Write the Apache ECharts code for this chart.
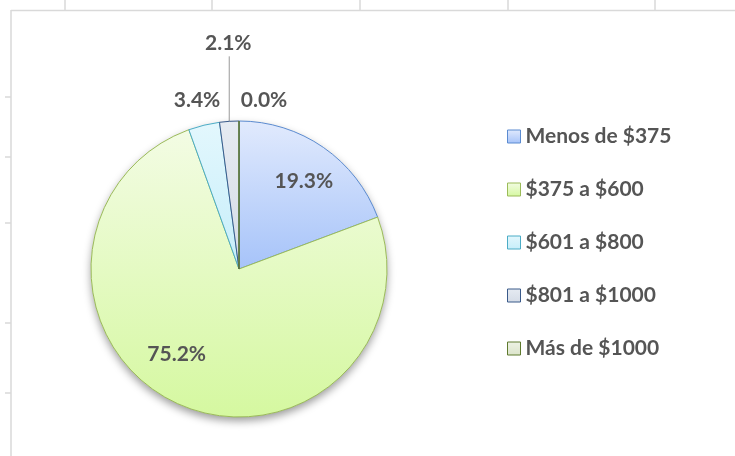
<!DOCTYPE html>
<html><head><meta charset="utf-8">
<script src="https://cdn.jsdelivr.net/npm/echarts@6/dist/echarts.min.js"></script>
<style>html,body{margin:0;padding:0;background:#fff}#c{width:735px;height:456px}</style>
</head><body><div id="c"></div>
<script>
// ---- data ----
const categories = ['Menos de $375', '$375 a $600', '$601 a $800', '$801 a $1000', 'Más de $1000'];
const shares = [19.3, 75.2, 3.4, 2.1, 0.0];

// ---- styles (kept apart from data) ----
const fillTop    = ['#e1eafd', '#f3fce4', '#e3f7fd', '#e6ebf2', '#eef2e6'];
const fillBottom = ['#a6c3f9', '#d5f8a0', '#c6eefa', '#d5dce7', '#dbe4ca'];
const borders    = ['#5b8bd0', '#9bbb59', '#4bacc6', '#3a5a8a', '#5f7a2e'];
// label placement tweaks: inside labels shift by dx/dy, outside labels sit relative to the slice edge point
const labelPlace = [
  { mode: 'inside', dx: 21, dy: -24 },
  { mode: 'inside', dx: -30, dy: 15 },
  { mode: 'outside', dx: -7, dy: -25 },
  { mode: 'outside', dx: -1, dy: -78, line: 65 },
  { mode: 'outside', dx: 25, dy: -21 }
];

const TEXT = '#555555';
const FONT = 'Lato, "Open Sans", sans-serif';
const CENTER = [239, 269], RADIUS = 148;

function grad(i) {
  return new echarts.graphic.LinearGradient(0, 0, 0, 1, [
    { offset: 0, color: fillTop[i] }, { offset: 1, color: fillBottom[i] }
  ]);
}

const pieData = categories.map((name, i) => ({
  name: name,
  value: shares[i],
  itemStyle: { color: grad(i), borderColor: borders[i], borderWidth: 1 },
  label: { position: labelPlace[i].mode },
  labelLine: {
    show: labelPlace[i].mode === 'outside',
    lineStyle: { color: '#9a9a9a', width: 1, opacity: labelPlace[i].line ? 1 : 0 }
  }
}));

// spreadsheet gridline decorations around the chart frame
const gridColor = '#d9d9d9';
const colLines = [65, 212, 360, 508, 655];
const rowTicks = [97, 157, 223, 323, 393];
const graphics = [];
colLines.forEach(x => graphics.push({ type: 'line', shape: { x1: x, y1: 0, x2: x, y2: 10 }, style: { stroke: gridColor, lineWidth: 1.5 }, silent: true }));
rowTicks.forEach(y => graphics.push({ type: 'line', shape: { x1: 5, y1: y, x2: 11, y2: y }, style: { stroke: gridColor, lineWidth: 1.5 }, silent: true }));
graphics.push({ type: 'line', shape: { x1: 11, y1: 10.5, x2: 735, y2: 10.5 }, style: { stroke: gridColor, lineWidth: 1.5 }, silent: true });
graphics.push({ type: 'line', shape: { x1: 11, y1: 10, x2: 11, y2: 456 }, style: { stroke: gridColor, lineWidth: 1.5 }, silent: true });

const chart = echarts.init(document.getElementById('c'), null, { renderer: 'canvas' });
chart.setOption({
  backgroundColor: '#ffffff',
  animation: false,
  graphic: graphics,
  legend: {
    data: categories,
    orient: 'vertical',
    left: 502,
    top: 121,
    itemWidth: 13,
    itemHeight: 13,
    itemGap: 32,
    icon: 'rect',
    itemStyle: { borderWidth: 1 },
    textStyle: { color: TEXT, fontSize: 21, fontWeight: 'bold', fontFamily: FONT }
  },
  series: [
    {
      type: 'pie',
      silent: true,
      center: CENTER,
      radius: RADIUS,
      z: 1,
      label: { show: false },
      labelLine: { show: false },
      itemStyle: { color: '#ffffff', shadowBlur: 8, shadowOffsetY: 4, shadowColor: 'rgba(0,0,0,0.4)' },
      data: [{ value: 1, name: '' }]
    },
    {
      type: 'pie',
      z: 2,
      center: CENTER,
      radius: RADIUS,
      startAngle: 90,
      clockwise: true,
      avoidLabelOverlap: false,
      stillShowZeroSum: true,
      minShowLabelAngle: 0,
      label: {
        show: true,
        color: TEXT,
        fontSize: 21,
        fontWeight: 'bold',
        fontFamily: FONT,
        formatter: p => p.value.toFixed(1) + '%'
      },
      labelLine: { length: 15, length2: 0, smooth: false },
      labelLayout: function (p) {
        const o = labelPlace[p.dataIndex];
        if (o.mode === 'inside') return { dx: o.dx, dy: o.dy };
        if (!p.labelLinePoints) return {};
        const p0 = p.labelLinePoints[0];
        const res = { x: p0[0] + o.dx, y: p0[1] + o.dy, align: 'center', verticalAlign: 'middle' };
        if (o.line) res.labelLinePoints = [[p0[0], p0[1]], [p0[0], p0[1] - o.line], [p0[0], p0[1] - o.line]];
        return res;
      },
      data: pieData
    }
  ]
});
</script>
</body></html>
